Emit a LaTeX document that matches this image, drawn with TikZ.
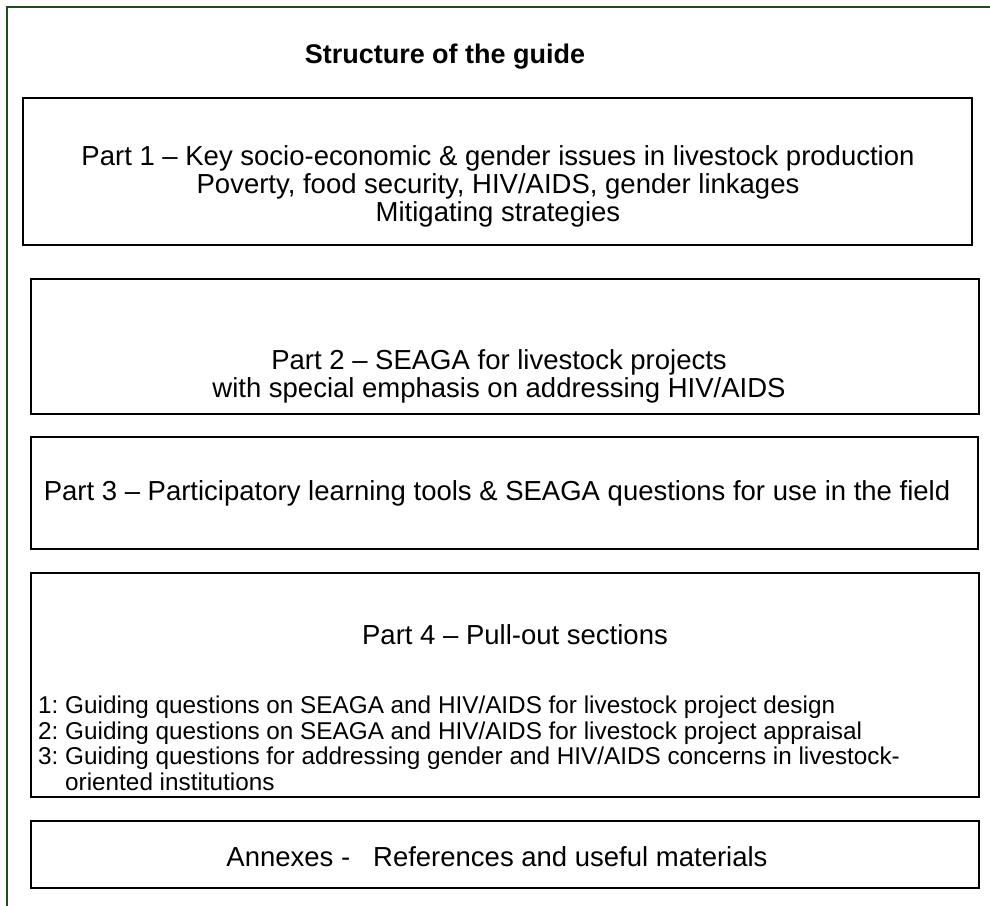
\documentclass[tikz,border=0pt]{standalone}
\usepackage{fontspec}
\setmainfont{Liberation Sans}
\frenchspacing
\definecolor{framegreen}{RGB}{31,78,31}
\newcommand\tightlines{\setlength{\lineskiplimit}{-100pt}\setlength{\lineskip}{0pt}}
\tikzset{
	partbox/.style={draw=black, line width=1.5pt},
	parttext/.style={align=center, inner sep=0pt, font=\fontsize{27.5}{28}\selectfont\tightlines},
	listtext/.style={align=left, inner sep=0pt, font=\fontsize{24.3}{25.5}\selectfont\tightlines}
}

\begin{document}
\begin{tikzpicture}[x=1pt,y=-1pt]
		\useasboundingbox (0,0) rectangle (990,905);
		\clip (0,0) rectangle (990,905);
		%outer frame
			\draw[framegreen, line width=2pt] (7,920) -- (7,7) -- (1005,7);
		%title
			\node[font=\bfseries\fontsize{27}{30}\selectfont] (title) at (445,57) {Structure of the guide};
		%Part 1
			\draw[partbox] (23,98) rectangle (972,245);
			\node[parttext] (part1) at (498,186) {Part 1 – Key socio-economic \& gender issues in livestock production\\Poverty, food security, HIV/AIDS, gender linkages\\Mitigating strategies};
		%Part 2
			\draw[partbox] (31,279) rectangle (979,414);
			\node[parttext] (part2) at (499,376) {Part 2 – SEAGA for livestock projects\\with special emphasis on addressing HIV/AIDS};
		%Part 3
			\draw[partbox] (31,437) rectangle (978,549);
			\node[parttext] (part3) at (497,493) {Part 3 – Participatory learning tools \& SEAGA questions for use in the field};
		%Part 4
			\draw[partbox] (31,573) rectangle (979,797);
			\node[parttext] (part4) at (515,635) {Part 4 – Pull-out sections};
			\node[listtext, anchor=north west] (pullout) at (38,696) {1: Guiding questions on SEAGA and HIV/AIDS for livestock project design\\2: Guiding questions on SEAGA and HIV/AIDS for livestock project appraisal\\3: Guiding questions for addressing gender and HIV/AIDS concerns in livestock-\\\hphantom{3:~}oriented institutions};
		%Annexes
			\draw[partbox] (31,821) rectangle (979,888);
			\node[parttext] (annexes) at (497,857) {Annexes -\ \ \ References and useful materials};
\end{tikzpicture}
\end{document}
